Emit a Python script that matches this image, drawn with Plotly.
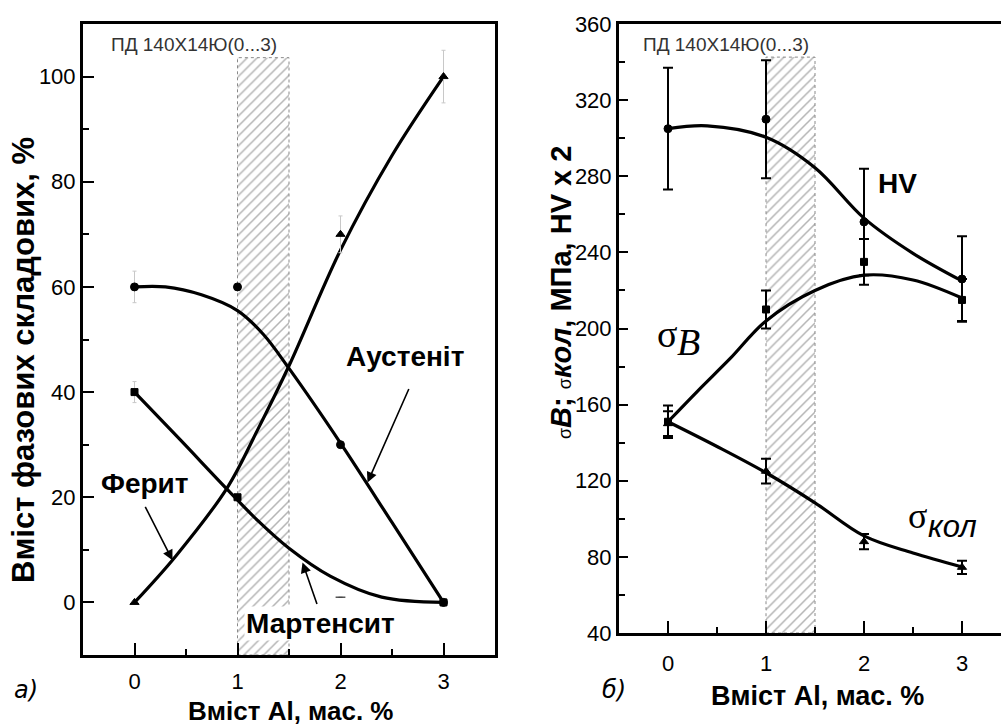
import plotly.graph_objects as go

# ---------------- data: panel a) phase content ----------------
AL_A = [0, 1, 2, 3]
AUST_Y = [60, 60, 30, 0]
AUST_ERR = [3, 0, 0, 0]
FERR_X = [0, 2, 3]
FERR_Y = [0, 70, 100]
FERR_ERR = [0, 3.5, 5]
MART_Y = [40, 20, 1, 0]
MART_ERR = [2, 0, 0, 0]
MART_SYM = ["square", "square", "line-ew", "square"]

# fitted curves (control points)
AUST_CX = [0, 0.3, 0.65, 1.0, 1.25, 1.5, 2.0, 2.5, 3.0]
AUST_CY = [60, 60, 58.5, 55.5, 51, 44.5, 30.3, 15.2, 0]
FERR_CX = [0, 0.4, 0.9, 1.2, 1.5, 2.0, 2.5, 3.0]
FERR_CY = [0, 8.8, 21.8, 33, 45, 67, 85, 100]
MART_CX = [0, 0.45, 0.9, 1.2, 1.5, 1.9, 2.4, 3.0]
MART_CY = [40, 30.8, 21.5, 15.5, 10.3, 5, 1, 0]

# ---------------- data: panel б) properties ----------------
AL_B = [0, 1, 2, 3]
HV_Y = [305, 310, 256, 226]
HV_ERR = [32, 31, 28, 22.5]
SB_Y = [151, 210, 235, 215]
SB_ERR = [8.5, 10, 12, 11]
SK_Y = [150, 125, 88, 74.5]
SK_ERR = [6.5, 6.5, 4, 3.5]

HV_CX = [0, 0.4, 1, 1.5, 2, 2.5, 3]
HV_CY = [305, 306.5, 300.5, 284.5, 258, 239.5, 225]
SB_CX = [0, 0.3, 0.63, 1, 1.5, 2, 2.5, 3]
SB_CY = [151, 167, 184, 204, 220, 228, 225.5, 216]
SK_CX = [0, 0.5, 1, 1.5, 2, 2.5, 3]
SK_CY = [151, 138, 124.2, 108.4, 91, 82, 74.7]

# hatched interval
HATCH_X = [1.0, 1.5]
HATCH_Y_A = [-10, 103.6]
HATCH_Y_B = [40, 342.6]

LEFT_XTICKS = [0, 1, 2, 3]
LEFT_YTICKS = [0, 20, 40, 60, 80, 100]
RIGHT_XTICKS = [0, 1, 2, 3]
RIGHT_YTICKS = [40, 80, 120, 160, 200, 240, 280, 320, 360]

W, H = 1001, 727
def px(x):
    return x / W
def py(y):
    return 1 - y / H

SANS = "Liberation Sans, Arial"
TICKFONT = dict(family=SANS, size=22, color="black")
fig = go.Figure()

def hatch(xa, ya, xref, yref):
    xs = [xa[0], xa[1], xa[1], xa[0], xa[0]]
    ys = [ya[0], ya[0], ya[1], ya[1], ya[0]]
    fig.add_trace(go.Scatter(
        x=xs, y=ys, xaxis=xref, yaxis=yref, mode="lines", fill="toself",
        fillcolor="white",
        fillpattern=dict(shape="/", size=7, solidity=0.22, fgcolor="#6a6a6a", bgcolor="white"),
        line=dict(color="#8a8a8a", width=1, dash="dot"), hoverinfo="skip"))

hatch(HATCH_X, HATCH_Y_A, "x", "y")
hatch(HATCH_X, HATCH_Y_B, "x2", "y2")

def curve(cx, cy, xr, yr):
    fig.add_trace(go.Scatter(x=cx, y=cy, xaxis=xr, yaxis=yr, mode="lines",
                             line=dict(color="black", width=3.2, shape="spline", smoothing=1.0),
                             hoverinfo="skip"))

def pts(x, y, err, sym, size, xr, yr, ecolor, ethick, ewidth):
    fig.add_trace(go.Scatter(x=x, y=y, xaxis=xr, yaxis=yr, mode="markers",
                             marker=dict(symbol=sym, size=size, color="black",
                                         line=dict(color="black", width=1)),
                             error_y=dict(type="data", array=err, visible=True,
                                          color=ecolor, thickness=ethick, width=ewidth)))

# panel a
curve(AUST_CX, AUST_CY, "x", "y")
curve(FERR_CX, FERR_CY, "x", "y")
curve(MART_CX, MART_CY, "x", "y")
pts(AL_A, AUST_Y, AUST_ERR, "circle", 8, "x", "y", "#c8c8c8", 1, 2)
pts(FERR_X, FERR_Y, FERR_ERR, "triangle-up", 8, "x", "y", "#c8c8c8", 1, 2)
pts(AL_A, MART_Y, MART_ERR, MART_SYM, 7, "x", "y", "#c8c8c8", 1, 2)

# panel b
curve(HV_CX, HV_CY, "x2", "y2")
curve(SB_CX, SB_CY, "x2", "y2")
curve(SK_CX, SK_CY, "x2", "y2")
pts(AL_B, HV_Y, HV_ERR, "circle", 8, "x2", "y2", "black", 2, 5)
pts(AL_B, SB_Y, SB_ERR, "square", 7, "x2", "y2", "black", 2, 5)
pts(AL_B, SK_Y, SK_ERR, "triangle-up", 8, "x2", "y2", "black", 2, 5)

axis_common = dict(showline=True, linecolor="black", linewidth=3, ticks="inside",
                   tickcolor="black", tickwidth=2, showgrid=False, zeroline=False,
                   tickfont=TICKFONT, automargin=False)

fig.update_layout(
    width=W, height=H, margin=dict(l=0, r=0, t=0, b=0, pad=0, autoexpand=False),
    paper_bgcolor="white", plot_bgcolor="white", showlegend=False,
    xaxis=dict(axis_common, domain=[px(83), px(495)], range=[-0.5, 3.5], mirror=True,
               tickvals=LEFT_XTICKS, ticklen=12, ticklabelstandoff=5,
               minor=dict(dtick=0.5, ticks="inside", ticklen=6, tickwidth=2, tickcolor="black"),
               anchor="y"),
    yaxis=dict(axis_common, domain=[py(655), py(24)], range=[-10, 110], mirror=True,
               tickvals=LEFT_YTICKS, ticklen=11,
               minor=dict(dtick=10, ticks="inside", ticklen=6, tickwidth=2, tickcolor="black"),
               anchor="x"),
    xaxis2=dict(axis_common, domain=[px(619), 1.0], range=[-0.5, 3.398], mirror=True,
                tickvals=RIGHT_XTICKS, ticklen=12, ticklabelstandoff=9,
                minor=dict(dtick=0.5, ticks="inside", ticklen=6, tickwidth=2, tickcolor="black"),
                anchor="y2"),
    yaxis2=dict(axis_common, domain=[py(633), py(24)], range=[40, 360], mirror=False,
                tickvals=RIGHT_YTICKS, ticklen=9,
                minor=dict(dtick=20, ticks="inside", ticklen=6, tickwidth=2, tickcolor="black"),
                anchor="x2"),
)

ann = []
SERIF = "Liberation Serif, DejaVu Serif"

def pann(text, x, y, font, angle=0, **kw):
    ann.append(dict(text=text, x=px(x), y=py(y), xref="paper", yref="paper",
                    showarrow=False, font=font, textangle=angle,
                    xanchor="center", yanchor="middle", **kw))

# axis titles
pann("<b>Вміст Al, мас. %</b>", 290, 711, dict(family=SANS, size=26, color="black"))
pann("<b>Вміст Al, мас. %</b>", 817, 696, dict(family=SANS, size=27, color="black"))
pann("<b>Вміст фазових складових, %</b>", 24, 360, dict(family=SANS, size=31, color="black"), angle=-90)
pann("<span style='font-size:18px'>σ</span><b><i>B</i>; </b>"
     "<span style='font-size:18px'>σ</span><b><i>кол</i>, МПа, HV x 2</b>",
     561, 293, dict(family=SANS, size=29, color="black"), angle=-90)

# panel labels
pann("<i>а)</i>", 26, 690, dict(family="DejaVu Sans", size=24, color="black"))
pann("<i>б)</i>", 614, 690, dict(family="DejaVu Sans", size=24, color="black"))

# alloy tag
pann("ПД 140Х14Ю(0...3)", 194, 45, dict(family=SANS, size=19, color="#333"))
pann("ПД 140Х14Ю(0...3)", 726, 44, dict(family=SANS, size=19, color="#333"))

def dann(text, x, y, xr, yr, font, **kw):
    ann.append(dict(text=text, x=x, y=y, xref=xr, yref=yr, showarrow=False,
                    font=font, xanchor="center", yanchor="middle", **kw))

LABEL_F = dict(family=SANS, size=28, color="black")
# panel a labels
dann("<b>Аустеніт</b>", 2.63, 46.8, "x", "y", LABEL_F)
dann("<b>Ферит</b>", 0.10, 22.6, "x", "y", LABEL_F)
dann("<b>Мартенсит</b>", 1.81, -4.0, "x", "y", LABEL_F, bgcolor="white")

def arrow(x, y, ax, ay):
    ann.append(dict(text="", x=x, y=y, xref="x", yref="y", ax=ax, ay=ay,
                    showarrow=True, arrowhead=2, arrowsize=1.3, arrowwidth=1.6,
                    arrowcolor="black", standoff=0))

arrow(2.262, 22.8, 42, -95)
arrow(0.369, 8.0, -28, -55)
arrow(1.631, 7.6, 15, 43)

# panel b labels
dann("<b>HV</b>", 2.337, 276.3, "x2", "y2", dict(family=SANS, size=28, color="black"))
dann("σ", -0.01, 197, "x2", "y2", dict(family=SERIF, size=38, color="black"))
dann("<i>B</i>", 0.214, 193, "x2", "y2", dict(family=SERIF, size=38, color="black"))
dann("σ", 2.551, 101.6, "x2", "y2", dict(family=SERIF, size=36, color="black"))
dann("<i>кол</i>", 2.908, 95.8, "x2", "y2", dict(family=SANS, size=31, color="black"))

fig.update_layout(annotations=ann)
fig.write_html("out.html")
